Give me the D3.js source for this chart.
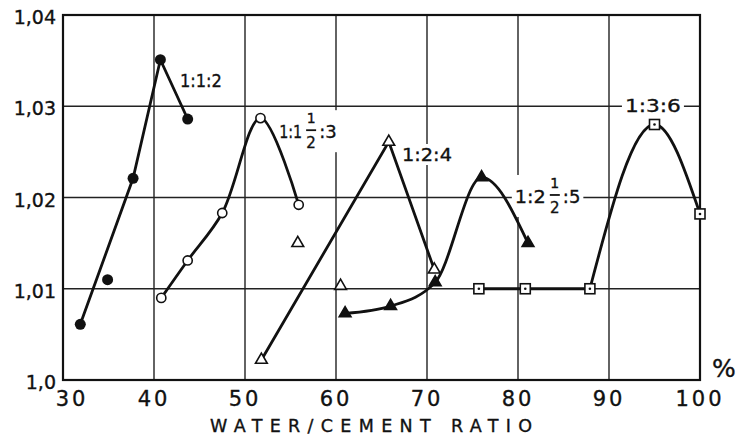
<!DOCTYPE html>
<html>
<head>
<meta charset="utf-8">
<script src="https://cdn.jsdelivr.net/npm/d3@7"></script>
<style>
  body { margin: 0; background: #fff; }
  svg { display: block; }
  text { font-family: "DejaVu Sans", sans-serif; fill: #111; stroke: #111; stroke-width: 0.35px; }
</style>
</head>
<body>
<svg id="chart" width="736" height="443"></svg>
<script>
// water/cement ratio (%) vs relative value, one curve per mix
var xTicks = [30, 40, 50, 60, 70, 80, 90, 100];
var yTicks = [1.0, 1.01, 1.02, 1.03, 1.04];
var yTickLabels = ["1,0", "1,01", "1,02", "1,03", "1,04"];

var mixes = ["1:1:2", "1:1½:3", "1:2:4", "1:2½:5", "1:3:6"];

var x112 = [31.9, 37.7, 40.7, 43.7];
var y112 = [1.0061, 1.0221, 1.0351, 1.0286];
var x112extra = [34.9];
var y112extra = [1.0110];

var x113 = [40.8, 43.7, 47.5, 51.7, 55.9];
var y113 = [1.0090, 1.0131, 1.0183, 1.0287, 1.0192];

var x124 = [51.8, 65.8, 70.8];
var y124 = [1.0022, 1.0261, 1.0121];
var x124extra = [55.8, 60.5];
var y124extra = [1.0150, 1.0103];

var x125 = [61.0, 66.0, 70.9, 76.0, 81.1];
var y125 = [1.0073, 1.0081, 1.0107, 1.0222, 1.0150];

var x136 = [75.7, 80.8, 87.9, 95.0, 100];
var y136 = [1.0100, 1.0100, 1.0100, 1.0280, 1.0182];

// label anchors (data units): left edge, baseline
var labelX = [42.85, 53.75, 67.25, 79.65, 91.75];
var labelY = [1.0321, 1.0265, 1.0240, 1.0194, 1.0294];

var svg = d3.select("#chart");
var plotLeft = 63, plotRight = 700, plotTop = 15, plotBottom = 380;

var x = d3.scaleLinear().domain([30, 100]).range([plotLeft, plotRight]);
var y = d3.scaleLinear().domain([1.0, 1.04]).range([plotBottom, plotTop]);

// grid
svg.append("g").selectAll("line")
  .data(xTicks.slice(1, -1))
  .enter().append("line")
  .attr("x1", function(d) { return x(d); })
  .attr("x2", function(d) { return x(d); })
  .attr("y1", plotTop).attr("y2", plotBottom)
  .attr("stroke", "#222").attr("stroke-width", 1.4);

svg.append("g").selectAll("line")
  .data(yTicks.slice(1, -1))
  .enter().append("line")
  .attr("x1", plotLeft).attr("x2", plotRight)
  .attr("y1", function(d) { return y(d); })
  .attr("y2", function(d) { return y(d); })
  .attr("stroke", "#222").attr("stroke-width", 1.6);

svg.append("rect")
  .attr("x", plotLeft).attr("y", plotTop)
  .attr("width", plotRight - plotLeft).attr("height", plotBottom - plotTop)
  .attr("fill", "none").attr("stroke", "#111").attr("stroke-width", 2.2);

// tick labels
svg.append("g").selectAll("text")
  .data(yTicks)
  .enter().append("text")
  .attr("x", plotLeft - 7)
  .attr("y", function(d) { return y(d) + 2; })
  .attr("text-anchor", "end")
  .attr("dominant-baseline", "central")
  .style("font-size", "19px")
  .text(function(d, i) { return yTickLabels[i]; });

svg.append("g").selectAll("text")
  .data(xTicks)
  .enter().append("text")
  .attr("x", function(d, i) { return x(d) + (i == 0 ? 9 : 0); })
  .attr("y", 406)
  .attr("text-anchor", "middle")
  .style("font-size", "21px")
  .style("letter-spacing", "3px")
  .text(function(d) { return d; });

svg.append("text")
  .attr("x", 724).attr("y", 377)
  .attr("text-anchor", "middle")
  .style("font-size", "25px")
  .text("%");

svg.append("text")
  .attr("x", 210).attr("y", 432)
  .attr("textLength", 322)
  .attr("lengthAdjust", "spacing")
  .style("font-size", "17.5px")
  .text("WATER/CEMENT RATIO");

// curve labels, white box breaks the grid behind them
var labelHeadLen = [42, 23, 50, 31, 56];
function drawLabel(i, head, num, den, tail) {
  var g = svg.append("g");
  var bg = g.append("rect").attr("fill", "#fff");
  var px = x(labelX[i]), py = y(labelY[i]);
  g.append("text").attr("x", px).attr("y", py)
    .attr("textLength", labelHeadLen[i]).attr("lengthAdjust", "spacingAndGlyphs")
    .style("font-size", "18px").text(head);
  if (num) {
    var fx = px + labelHeadLen[i] + 2;
    g.append("text").attr("x", fx + 7).attr("y", py - 15)
      .attr("text-anchor", "middle").style("font-size", "14px").text(num);
    g.append("line").attr("x1", fx + 2).attr("x2", fx + 12)
      .attr("y1", py - 8).attr("y2", py - 8)
      .attr("stroke", "#111").attr("stroke-width", 1.8);
    g.append("text").attr("x", fx + 7).attr("y", py + 10)
      .attr("text-anchor", "middle").style("font-size", "15px").text(den);
    g.append("text").attr("x", fx + 15).attr("y", py)
      .style("font-size", "18px").text(tail);
  }
  var bb = g.node().getBBox();
  bg.attr("x", bb.x - 3).attr("y", bb.y).attr("width", bb.width + 6).attr("height", bb.height);
}
drawLabel(0, "1:1:2");
drawLabel(1, "1:1", "1", "2", ":3");
drawLabel(2, "1:2:4");
drawLabel(3, "1:2", "1", "2", ":5");
drawLabel(4, "1:3:6");

// curves
function drawCurve(xs, ys, curve) {
  var pts = xs.map(function(d, i) { return [x(d), y(ys[i])]; });
  svg.append("path")
    .attr("d", d3.line().curve(curve)(pts))
    .attr("fill", "none").attr("stroke", "#111").attr("stroke-width", 2.8);
}
drawCurve(x112, y112, d3.curveLinear);
drawCurve(x113, y113, d3.curveCatmullRom.alpha(0.5));
drawCurve(x124, y124, d3.curveLinear);
drawCurve(x125, y125, d3.curveMonotoneX);
drawCurve(x136.slice(0, 3), y136.slice(0, 3), d3.curveLinear);
drawCurve(x136.slice(2), y136.slice(2), d3.curveMonotoneX);

// markers
function drawPoints(xs, ys, kind) {
  var g = svg.append("g");
  xs.forEach(function(d, i) {
    var cx = x(d), cy = y(ys[i]);
    if (kind == "dot") {
      g.append("circle").attr("cx", cx).attr("cy", cy).attr("r", 5.5).attr("fill", "#111");
    } else if (kind == "ring") {
      g.append("circle").attr("cx", cx).attr("cy", cy).attr("r", 4.6)
        .attr("fill", "#fff").attr("stroke", "#111").attr("stroke-width", 1.6);
    } else if (kind == "tri" || kind == "solidtri") {
      g.append("path")
        .attr("transform", "translate(" + cx + "," + cy + ")")
        .attr("d", d3.symbol().type(d3.symbolTriangle).size(60)())
        .attr("fill", kind == "tri" ? "#fff" : "#111")
        .attr("stroke", "#111").attr("stroke-width", 1.6);
    } else {
      g.append("rect").attr("x", cx - 5).attr("y", cy - 5)
        .attr("width", 10).attr("height", 10)
        .attr("fill", "#fff").attr("stroke", "#111").attr("stroke-width", 1.6);
      g.append("circle").attr("cx", cx).attr("cy", cy).attr("r", 1.3).attr("fill", "#111");
    }
  });
}
drawPoints(x112, y112, "dot");
drawPoints(x112extra, y112extra, "dot");
drawPoints(x113, y113, "ring");
drawPoints(x124, y124, "tri");
drawPoints(x124extra, y124extra, "tri");
drawPoints(x125, y125, "solidtri");
drawPoints(x136, y136, "square");
</script>
</body>
</html>
